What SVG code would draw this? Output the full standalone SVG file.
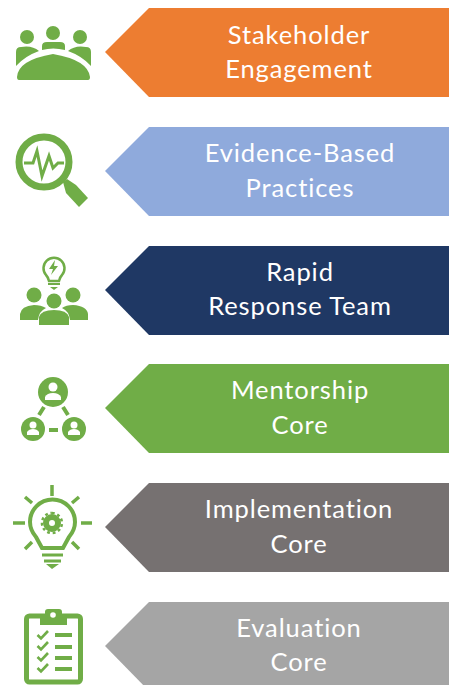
<svg xmlns="http://www.w3.org/2000/svg" width="454" height="685" viewBox="0 0 454 685">
<style>
text{font-family:"Lato","Open Sans","Liberation Sans",sans-serif;font-size:25.500px;fill:#fff;text-anchor:middle;letter-spacing:.9px}
.i{fill:#70ad47}
.l{fill:none;stroke:#70ad47}
.w{fill:#fff}
</style>
<rect width="454" height="685" fill="#fff"/>
<g id="stakeholder">
<g class="i"><circle cx="27" cy="37" r="7"/><circle cx="53" cy="33" r="7"/><circle cx="80" cy="37" r="7"/>
<path d="M16 66V52Q16 47 21 47Q32 45 39 51Q25 56 16 66Z"/><path d="M42 50V46Q42 42 47 42H60Q65 42 65 46V50Q53 47 42 50Z"/><path d="M91 66V52Q91 47 86 47Q75 45 68 51Q82 56 91 66Z"/>
<path d="M17 77Q18 60 53 54Q88 60 90 77Q90 80 88 80H19Q17 80 17 77Z"/></g>
<path d="M105 52L149 8H449V97H149Z" fill="#ed7d31"/>
<text x="299" y="44">Stakeholder</text><text x="299" y="78">Engagement</text>
</g>
<g id="evidence">
<circle class="l" cx="44" cy="162" r="25" stroke-width="7"/>
<path class="l" stroke-width="3" d="M24 163H33L37 151L42 176L49 156L53 168L58 163H64"/>
<path class="i" d="M63 182L67 179L76 185L88 198L79 207L66 193Z"/>
<path d="M105 171L149 127H449V216H149Z" fill="#8faadc"/>
<text x="300" y="162">Evidence-Based</text><text x="300" y="197">Practices</text>
</g>
<g id="rapid">
<path class="l" stroke-width="2.500" d="M49 281Q48 277 46 275A10.500 10.500 0 1 1 62 275Q60 277 59 281Z"/>
<path class="i" d="M55 260L49 269H53L51 275L58 266H54Z"/>
<path class="l" stroke-width="2" d="M48 284H60"/><path class="i" d="M50 287H58L54 290Z"/>
<g class="i"><circle cx="34" cy="295" r="7.500"/><circle cx="73" cy="295" r="7.500"/><circle cx="54" cy="301" r="7.500"/>
<path d="M20 320V314Q21 306 34 305Q41 305 46 308Q39 311 38 320Z"/><path d="M88 320V314Q87 306 73 305Q66 305 62 308Q69 311 70 320Z"/>
<path d="M39 325V317Q41 310 54 310Q67 310 69 317V325Z"/></g>
<path d="M105 290L149 246H449V335H149Z" fill="#1f3864"/>
<text x="300" y="281">Rapid</text><text x="300" y="315">Response Team</text>
</g>
<g id="mentorship">
<circle class="i" cx="53" cy="392" r="15"/><circle class="w" cx="53" cy="387" r="4.500"/><path class="w" d="M45 400V397Q47 393 53 393Q59 393 61 397V400Z"/>
<circle class="i" cx="33" cy="429" r="12"/><circle class="w" cx="33" cy="425" r="3.500"/><path class="w" d="M27 435V432Q29 429 33 429Q37 429 39 432V435Z"/>
<circle class="i" cx="74" cy="429" r="12"/><circle class="w" cx="74" cy="425" r="3.500"/><path class="w" d="M68 435V432Q70 429 74 429Q78 429 80 432V435Z"/>
<path class="l" stroke-width="4" d="M44 407L39 415M63 407L68 415M49 430H58"/>
<path d="M105 408L149 364H449V453H149Z" fill="#70ad47"/>
<text x="300" y="399">Mentorship</text><text x="300" y="434">Core</text>
</g>
<g id="implementation">
<path class="l" stroke-width="3.500" d="M52 485V496M25 497L32 503M79 497L72 503M13 523H25M81 523H92M25 549L32 542M79 549L72 542"/>
<path class="l" stroke-width="4" d="M42 548L36 537Q30 530 30 522A22.500 22.500 0 0 1 75 522Q75 530 69 537L63 548Z"/>
<circle class="l" cx="52" cy="523" r="6" stroke-width="6"/>
<path class="l" stroke-width="2.500" stroke-dasharray="2.800 2.700" d="M52 513A10 10 0 1 1 51.900 513"/>
<path class="l" stroke-width="3" d="M42 555H63M44 561H61"/><path class="i" d="M46 564H59L52 569Z"/>
<path d="M105 527L149 483H449V572H149Z" fill="#767171"/>
<text x="299" y="518">Implementation</text><text x="299" y="553">Core</text>
</g>
<g id="evaluation">
<rect class="l" x="26.500" y="616" width="54" height="66" rx="3" stroke-width="5"/>
<path class="i" d="M40 625V614H45V612Q45 609 48 609H59Q62 609 62 612V614H67V625Z"/><circle class="w" cx="53" cy="615" r="2.800"/>
<path class="l" stroke-width="2.600" d="M37.500 635L41 638.500L48 631M37.500 646L41 649.500L48 642M37.500 657L41 660.500L48 653M37.500 668L41 671.500L48 664"/>
<path class="l" stroke-width="4" d="M55 635H72M55 647H72M55 658H72M55 669H72"/>
<path d="M105 646L149 602H449V691H149Z" fill="#a5a5a5"/>
<text x="299" y="637">Evaluation</text><text x="299" y="671">Core</text>
</g>
</svg>
